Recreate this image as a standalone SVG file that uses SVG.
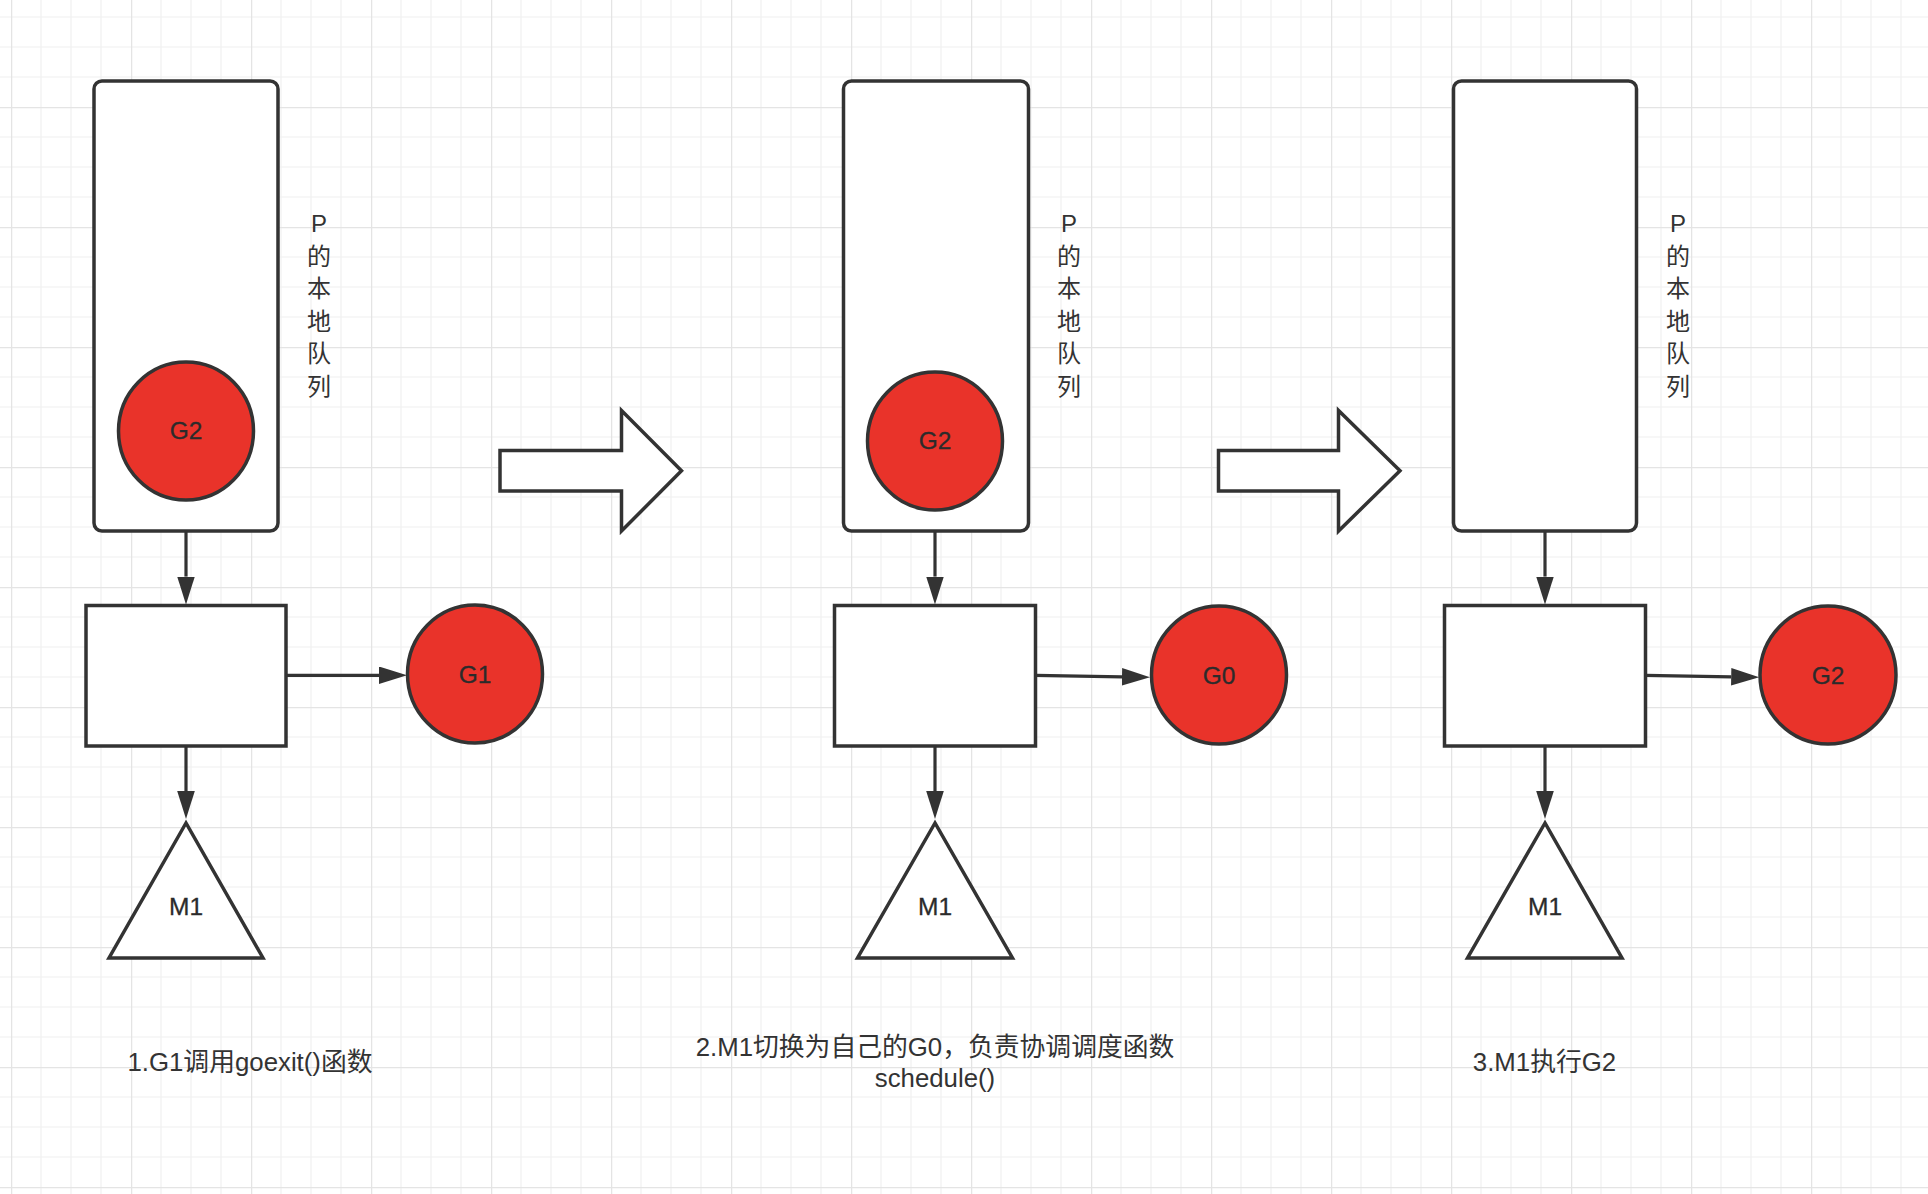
<svg xmlns="http://www.w3.org/2000/svg" width="1928" height="1194" viewBox="0 0 1928 1194">
<style>
.box{fill:#ffffff;stroke:#333333;stroke-width:3.5}
.g{fill:#E9332A;stroke:#333333;stroke-width:3.5}
.tri{fill:#ffffff;stroke:#333333;stroke-width:3.5;stroke-linejoin:miter}
.blk{fill:#ffffff;stroke:#333333;stroke-width:3.5;stroke-linejoin:miter}
.con{fill:none;stroke:#333333;stroke-width:3.2;marker-end:url(#ah)}
.lbl{font-family:"Liberation Sans","Noto Sans CJK SC",sans-serif;font-size:24.5px;fill:#2b2b2b;text-anchor:middle;stroke:#2b2b2b;stroke-width:0.3}
.vt{font-family:"Liberation Sans","Noto Sans CJK SC",sans-serif;font-size:24px;fill:#333333;text-anchor:middle}
.cap{font-family:"Liberation Sans","Noto Sans CJK SC",sans-serif;font-size:25.8px;fill:#333333;text-anchor:middle}
</style>
<defs>
<pattern id="grid" x="11" y="-13" width="120" height="120" patternUnits="userSpaceOnUse">
<path d="M30 0V120M60 0V120M90 0V120M0 30H120M0 60H120M0 90H120" stroke="#f0f0f0" stroke-width="1.2" fill="none"/>
<path d="M0.5 0V120M0 0.5H120" stroke="#e4e4e4" stroke-width="1.5" fill="none"/>
</pattern>
<marker id="ah" markerUnits="userSpaceOnUse" markerWidth="30" markerHeight="20" refX="0" refY="8.8" orient="auto">
<path d="M0 0L28 8.8L0 17.6Z" fill="#333333"/>
</marker>
</defs>
<rect x="0" y="0" width="1928" height="1194" fill="#ffffff"/>
<rect x="0" y="0" width="1928" height="1194" fill="url(#grid)"/>

<g id="connectors">
<path class="con" d="M186 532V576.6"/>
<path class="con" d="M286 675.3H379"/>
<path class="con" d="M186 747V791"/>
<path class="con" d="M935 532V576.6"/>
<path class="con" d="M1036 675.3L1122 676.8"/>
<path class="con" d="M935 747V791"/>
<path class="con" d="M1545 532V576.6"/>
<path class="con" d="M1646 675.3L1731.2 676.8"/>
<path class="con" d="M1545 747V791"/>
</g>

<g id="panel1-queue">
<rect class="box" x="94" y="81" width="184" height="450" rx="8"/>
</g>
<g id="panel1-g2">
<ellipse class="g" cx="186" cy="431" rx="67.5" ry="69"/>
<text class="lbl" x="186" y="439">G2</text>
</g>
<g id="panel1-label">
<text class="vt"><tspan x="319" y="231.5">P</tspan><tspan x="319" y="264.5">的</tspan><tspan x="319" y="297">本</tspan><tspan x="319" y="329.5">地</tspan><tspan x="319" y="362">队</tspan><tspan x="319" y="394.5">列</tspan></text>
</g>
<g id="panel1-p">
<rect class="box" x="86" y="605.5" width="200" height="140.5"/>
</g>
<g id="panel1-g1">
<ellipse class="g" cx="475" cy="674" rx="67.5" ry="69"/>
<text class="lbl" x="475" y="682.5">G1</text>
</g>
<g id="panel1-m1">
<polygon class="tri" points="186,823 109,958 263,958"/>
<text class="lbl" x="186" y="914.5">M1</text>
</g>
<g id="caption1">
<text class="cap" x="250" y="1071">1.G1调用goexit()函数</text>
</g>

<g id="step-arrow1">
<polygon class="blk" points="500,450.5 621.5,450.5 621.5,410.5 681.5,470.8 621.5,531 621.5,491 500,491"/>
</g>

<g id="panel2-queue">
<rect class="box" x="843.5" y="81" width="185" height="450" rx="8"/>
</g>
<g id="panel2-g2">
<ellipse class="g" cx="935" cy="441" rx="67.5" ry="69"/>
<text class="lbl" x="935" y="448.5">G2</text>
</g>
<g id="panel2-label">
<text class="vt"><tspan x="1069" y="231.5">P</tspan><tspan x="1069" y="264.5">的</tspan><tspan x="1069" y="297">本</tspan><tspan x="1069" y="329.5">地</tspan><tspan x="1069" y="362">队</tspan><tspan x="1069" y="394.5">列</tspan></text>
</g>
<g id="panel2-p">
<rect class="box" x="834.5" y="605.5" width="201" height="140.5"/>
</g>
<g id="panel2-g0">
<ellipse class="g" cx="1219" cy="675" rx="67.5" ry="69"/>
<text class="lbl" x="1219" y="684">G0</text>
</g>
<g id="panel2-m1">
<polygon class="tri" points="935,823 857.5,958 1012.5,958"/>
<text class="lbl" x="935" y="914.5">M1</text>
</g>
<g id="caption2">
<text class="cap" x="935" y="1056">2.M1切换为自己的G0，负责协调调度函数</text>
<text class="cap" x="935" y="1087">schedule()</text>
</g>

<g id="step-arrow2">
<polygon class="blk" points="1218.5,450.5 1338.5,450.5 1338.5,410.5 1400,470.8 1338.5,531 1338.5,491 1218.5,491"/>
</g>

<g id="panel3-queue">
<rect class="box" x="1453.5" y="81" width="183" height="450" rx="8"/>
</g>
<g id="panel3-label">
<text class="vt"><tspan x="1678" y="231.5">P</tspan><tspan x="1678" y="264.5">的</tspan><tspan x="1678" y="297">本</tspan><tspan x="1678" y="329.5">地</tspan><tspan x="1678" y="362">队</tspan><tspan x="1678" y="394.5">列</tspan></text>
</g>
<g id="panel3-p">
<rect class="box" x="1444.5" y="605.5" width="201" height="140.5"/>
</g>
<g id="panel3-g2">
<ellipse class="g" cx="1828" cy="675" rx="68" ry="69"/>
<text class="lbl" x="1828" y="684">G2</text>
</g>
<g id="panel3-m1">
<polygon class="tri" points="1545,823 1467.5,958 1622,958"/>
<text class="lbl" x="1545" y="914.5">M1</text>
</g>
<g id="caption3">
<text class="cap" x="1544.5" y="1071">3.M1执行G2</text>
</g>
</svg>
